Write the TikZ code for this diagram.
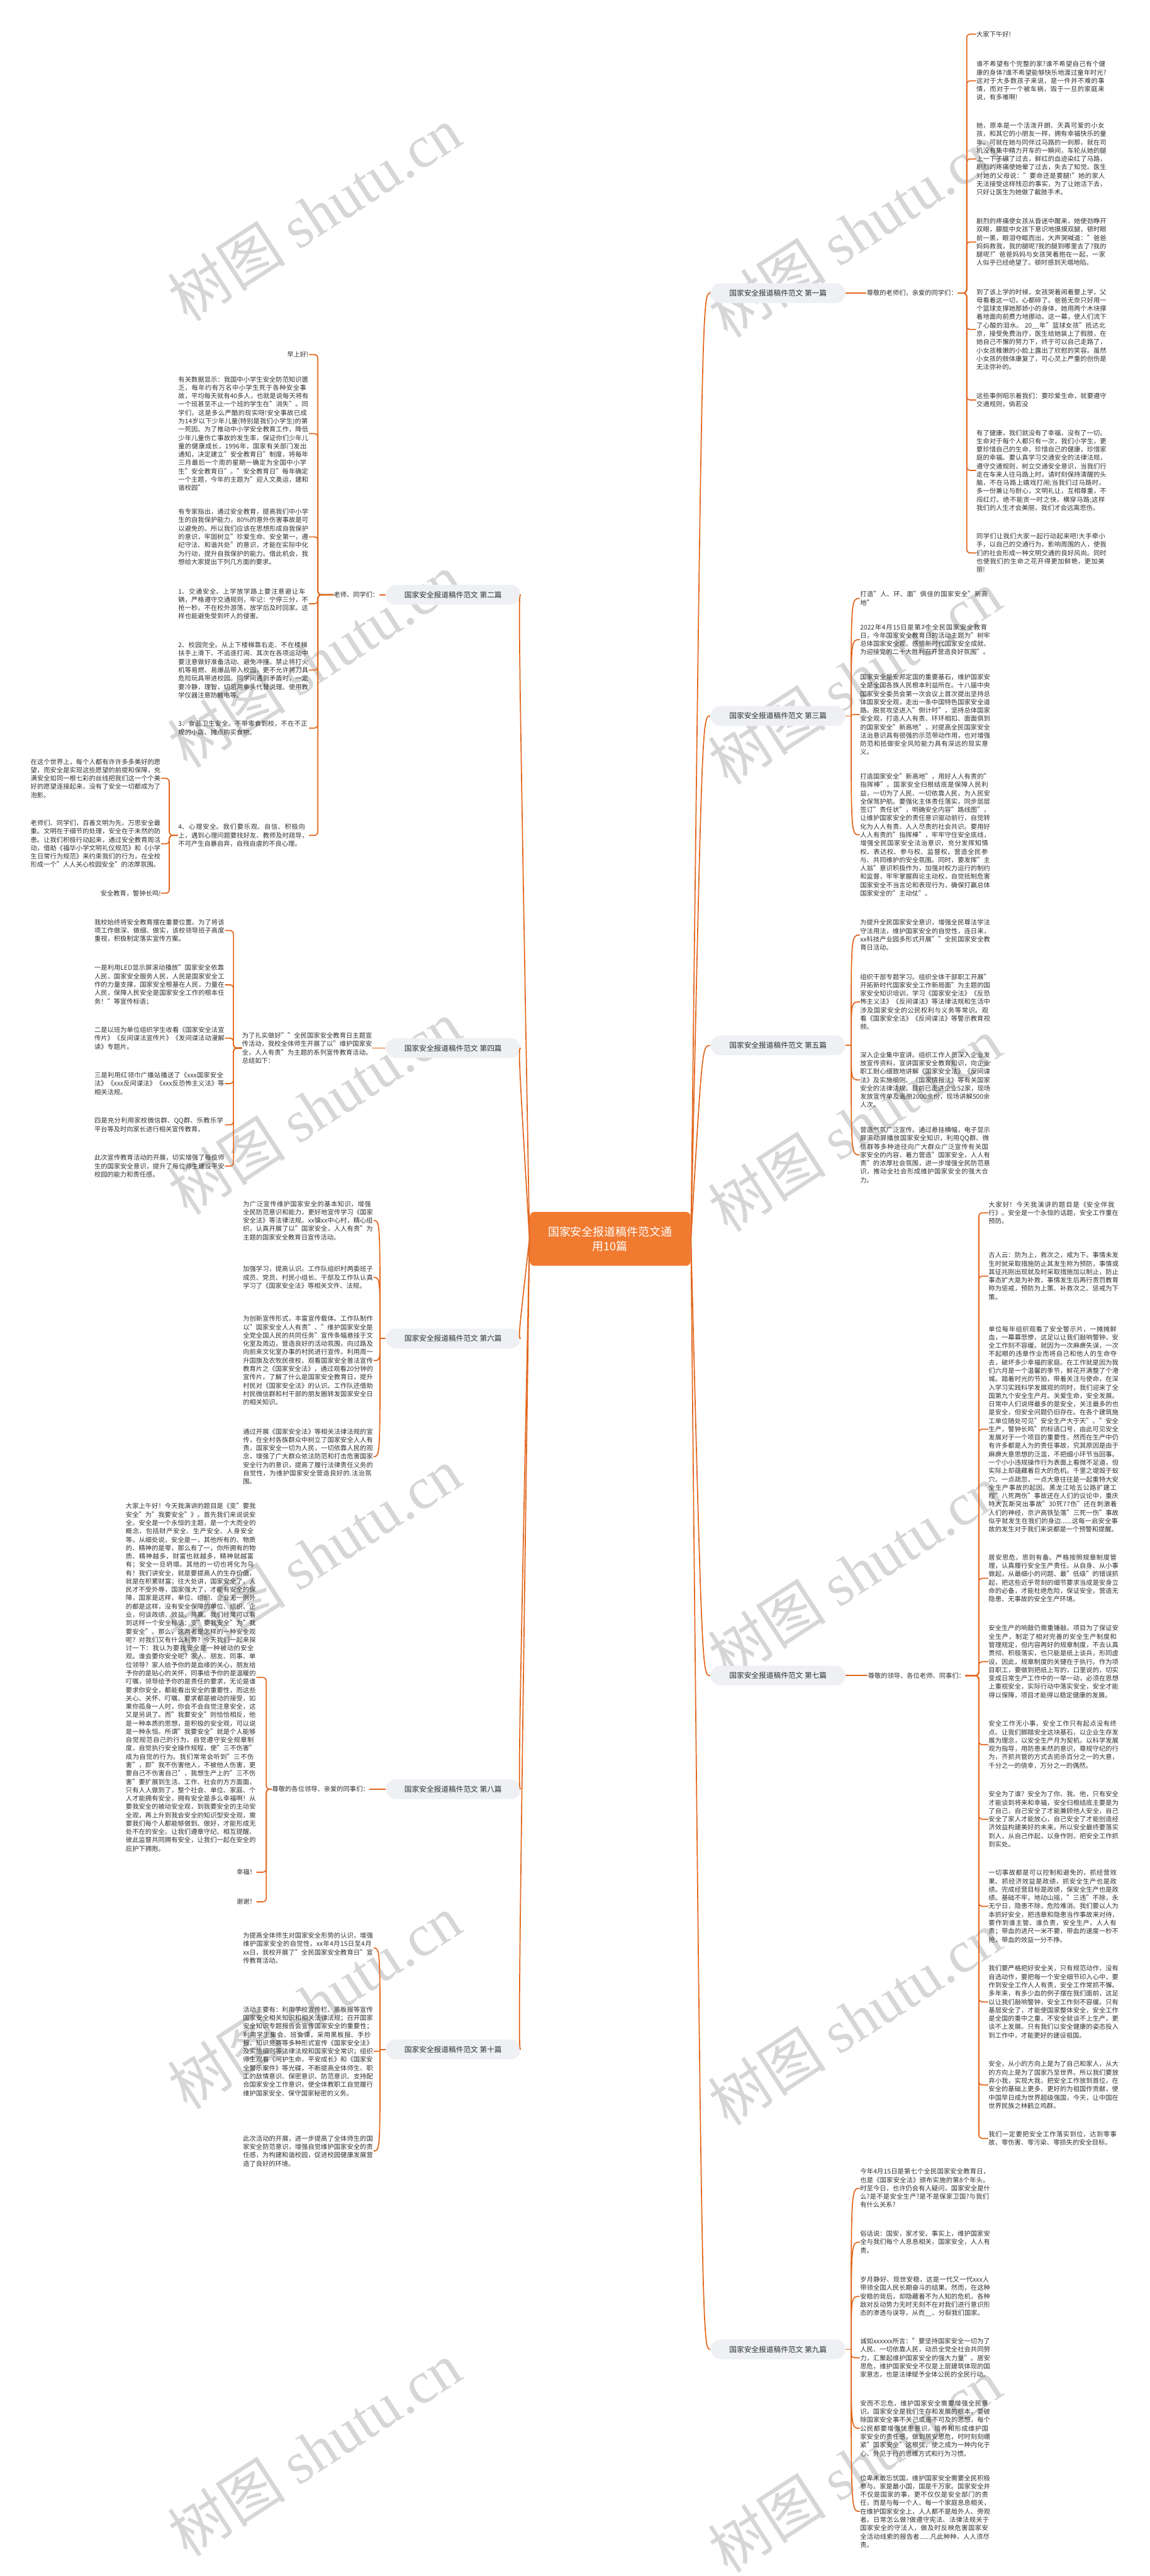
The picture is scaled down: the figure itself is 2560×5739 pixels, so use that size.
\documentclass[tikz,border=0pt]{standalone}
\usepackage{fontspec}
\setmainfont{Noto Sans CJK SC}
\newfontfamily\wmserif{Liberation Serif}
\XeTeXlinebreaklocale "zh"
\XeTeXlinebreakskip=0pt plus 1pt
\usetikzlibrary{calc}
\definecolor{org}{HTML}{E2671E}
\definecolor{ctrfill}{HTML}{F07A30}
\definecolor{lblfill}{HTML}{EEF0F4}
\definecolor{txt}{HTML}{303030}
\definecolor{wmgray}{HTML}{D6D6D6}
\newcommand{\bt}{\fontsize{3.6pt}{4.65pt}\selectfont}
\tikzset{
  blk/.style={inner sep=0pt, text width=72.5pt, align=left, font=\bt, text=txt},
  sht/.style={inner sep=0pt, font=\bt, text=txt},
  lbl/.style={fill=lblfill, rounded corners=5.5pt, minimum width=75pt, minimum height=11pt, inner sep=0pt, font=\fontsize{4.1pt}{5pt}\selectfont, text=txt},
  ctr/.style={fill=ctrfill, rounded corners=2.5pt, minimum width=89.5pt, minimum height=30pt, align=center, font=\fontsize{6.3pt}{8pt}\selectfont, text=white},
  cn/.style={draw=org, line width=0.6pt},
  el/.style={draw=org, line width=0.6pt, rounded corners=2pt},
  wm/.style={text=wmgray, inner sep=0pt, rotate=33, font=\fontsize{33pt}{36pt}\selectfont},
}
\begin{document}
\begin{tikzpicture}[x=0.25pt,y=-0.25pt]
\useasboundingbox (0,0) rectangle (2560,5739);
\fill[white] (0,0) rectangle (2560,5739);

% ---------- watermarks ----------
\foreach \i/\yy in {0/476,1/1472,2/2468,3/3464,4/4460,5/5456}
  \node[wm] (wml\i) at (700,\yy) {树图 {\wmserif shutu.cn}};
\foreach \i/\yy in {0/513,1/1509,2/2505,3/3501,4/4497,5/5493}
  \node[wm] (wmr\i) at (1904,\yy) {树图 {\wmserif shutu.cn}};

% ---------- centre and labels ----------
\node[ctr] (C) at (1359,2760) {国家安全报道稿件范文通\\用10篇};
\node[lbl, anchor=west] (L1) at (1582,653) {国家安全报道稿件范文 第一篇};
\node[lbl, anchor=west] (L3) at (1582,1595) {国家安全报道稿件范文 第三篇};
\node[lbl, anchor=west] (L5) at (1582,2329) {国家安全报道稿件范文 第五篇};
\node[lbl, anchor=west] (L7) at (1582,3733) {国家安全报道稿件范文 第七篇};
\node[lbl, anchor=west] (L9) at (1582,5234) {国家安全报道稿件范文 第九篇};
\node[lbl, anchor=east] (L2) at (1160,1325) {国家安全报道稿件范文 第二篇};
\node[lbl, anchor=east] (L4) at (1160,2335) {国家安全报道稿件范文 第四篇};
\node[lbl, anchor=east] (L6) at (1160,2982) {国家安全报道稿件范文 第六篇};
\node[lbl, anchor=east] (L8) at (1160,3986) {国家安全报道稿件范文 第八篇};
\node[lbl, anchor=east] (L10) at (1160,4566) {国家安全报道稿件范文 第十篇};

\coordinate (Ce) at ($(C.east)+(25,0)$);
\coordinate (Cw) at ($(C.west)+(-25,0)$);
\foreach \l in {L1,L3,L5,L7,L9} \draw[cn] (C.east) .. controls (Ce |- \l.west) .. (\l.west);
\foreach \l in {L2,L4,L6,L8,L10} \draw[cn] (C.west) .. controls (Cw |- \l.east) .. (\l.east);

% ---------- 第一篇 ----------
\node[sht, anchor=east] (I1) at (2133,653) {尊敬的老师们，亲爱的同学们：};
\node[sht, anchor=west] (r1a) at (2174,76) {大家下午好!};
\node[blk, anchor=west] (r1b) at (2174,180) {谁不希望有个完整的家?谁不希望自己有个健康的身体?谁不希望能够快乐地渡过童年时光?这对于大多数孩子来说，是一件并不难的事情，而对于一个被车祸，毁于一旦的家庭来说，有多难啊!};
\node[blk, anchor=west] (r1c) at (2174,354) {她，原本是一个活泼开朗、天真可爱的小女孩，和其它的小朋友一样，拥有幸福快乐的童年。可就在她与同伴过马路的一刹那，就在司机没有集中精力开车的一瞬间，车轮从她的腿上一下子碾了过去，鲜红的血迹染红了马路，剧烈的疼痛使她晕了过去，失去了知觉。医生对她的父母说："要命还是要腿!"她的家人无法接受这样残忍的事实，为了让她活下去，只好让医生为她做了截肢手术。};
\node[blk, anchor=west] (r1d) at (2174,539) {剧烈的疼痛使女孩从昏迷中醒来，她使劲睁开双眼，朦胧中女孩下意识地摸摸双腿，顿时眼前一黑，眼泪夺眶而出，大声哭喊道："爸爸妈妈救我，我的腿呢?我的腿到哪里去了?我的腿呢?"爸爸妈妈与女孩哭着抱在一起，一家人似乎已经绝望了。顿时感到天塌地陷。};
\node[blk, anchor=west] (r1e) at (2174,734) {到了该上学的时候，女孩哭着闹着要上学，父母看着这一切，心都碎了。爸爸无奈只好用一个篮球支撑她那娇小的身体，她用两个木块撑着地面向前费力地挪动。这一幕，使人们流下了心酸的泪水。 20\_\_年"篮球女孩"抵达北京，接受免费治疗，医生给她装上了假肢，在她自己不懈的努力下，终于可以自己走路了，小女孩稚嫩的小脸上露出了欣慰的笑容。虽然小女孩的肢体康复了，可心灵上严重的创伤是无法弥补的。};
\node[blk, anchor=west] (r1f) at (2174,891) {这些事例昭示着我们：要珍爱生命，就要遵守交通规则，倘若没};
\node[blk, anchor=west] (r1g) at (2174,1048) {有了健康，我们就没有了幸福，没有了一切。生命对于每个人都只有一次，我们小学生，更要珍惜自己的生命，珍惜自己的健康，珍惜家庭的幸福。要认真学习交通安全的法律法规，遵守交通规则，树立交通安全意识，当我们行走在车来人往马路上时，请时刻保持清醒的头脑，不在马路上嬉戏打闹;当我们过马路时，多一份兼让与耐心，文明礼让，互相尊重，不闯红灯。绝不能贪一时之快，横穿马路;这样我们的人生才会美丽，我们才会远离悲伤。};
\node[blk, anchor=west] (r1h) at (2174,1232) {同学们让我们大家一起行动起来吧!大手牵小手，以自己的交通行为，影响周围的人，使我们的社会形成一种文明交通的良好风尚。同时也使我们的生命之花开得更加鲜艳，更加美丽!};
\draw[cn] (L1.east) -- (I1.west);
\coordinate (I1s) at (2153,653);
\foreach \b in {r1a,r1b,r1c,r1d,r1e,r1f,r1g,r1h} \draw[el] (I1.east) -- (I1s) |- (\b.west);

% ---------- 第二篇 ----------
\node[sht, anchor=east] (I2) at (845,1325) {老师、同学们：};
\node[sht, anchor=east] (l2a) at (688,790) {早上好!};
\node[blk, anchor=east] (l2b) at (688,966) {有关数据显示：我国中小学生安全防范知识匮乏，每年约有万名中小学生死于各种安全事故，平均每天就有40多人，也就是说每天将有一个班甚至不止一个班的学生在"消失"。同学们，这是多么严酷的现实呀!安全事故已成为14岁以下少年儿童(特别是我们小学生)的第一死因。为了推动中小学安全教育工作，降低少年儿童伤亡事故的发生率，保证你们少年儿童的健康成长，1996年，国家有关部门发出通知，决定建立"安全教育日"制度，将每年三月最后一个周的星期一确定为全国中小学生"安全教育日"。"安全教育日"每年确定一个主题，今年的主题为"迎人文奥运，建和谐校园"};
\node[blk, anchor=east] (l2c) at (688,1196) {有专家指出，通过安全教育，提高我们中小学生的自我保护能力，80\%的意外伤害事故是可以避免的。所以我们应该在思想形成自我保护的意识，牢固树立"珍爱生命、安全第一，遵纪守法、和谐共处"的意识，才能在实际中化为行动，提升自我保护的能力。借此机会，我想给大家提出下列几方面的要求。};
\node[blk, anchor=east] (l2d) at (688,1345) {1、交通安全。上学放学路上要注意避让车辆，严格遵守交通规则，牢记：宁停三分，不抢一秒。不在校外游荡，放学后及时回家。这样也能避免受到坏人的侵害。};
\node[blk, anchor=east] (l2e) at (688,1493) {2、校园完全。从上下楼梯靠右走、不在楼梯扶手上滑下、不追逐打闹、其次在各项运动中要注意做好准备活动、避免冲撞。禁止将打火机等易燃、易爆品带入校园，更不允许将刀具危险玩具带进校园。同学间遇到矛盾时，一定要冷静，理智，切忌用拳头代替说理。使用教学仪器注意防触电等。};
\node[blk, anchor=east] (l2f) at (688,1622) {3、食品卫生安全。不带零食到校，不在不正规的小店、摊点购买食物。};
\node[blk, anchor=east] (l2g) at (688,1861) {4、心理安全。我们要乐观、自信、积极向上，遇到心理问题要找好友、教师及时疏导，不可产生自暴自弃，自残自虐的不良心理。};
\node[blk, anchor=east] (l2g1) at (359,1734) {在这个世界上，每个人都有许许多多美好的愿望，而安全是实现这些愿望的前提和保障，充满安全如同一根七彩的丝线把我们这一个个美好的愿望连接起来，没有了安全一切都成为了泡影。};
\node[blk, anchor=east] (l2g2) at (359,1880) {老师们、同学们，百善文明为先，万思安全最重。文明在于细节的处理，安全在于未然的防患。让我们积极行动起来，通过安全教育周活动，借助《福华小学文明礼仪规范》和《小学生日常行为规范》来约束我们的行为，在全校形成一个"人人关心校园安全"的浓厚氛围。};
\node[sht, anchor=east] (l2g3) at (359,1990) {安全教育，警钟长鸣!};
\draw[cn] (L2.west) -- (I2.east);
\coordinate (I2s) at (708,1325);
\foreach \b in {l2a,l2b,l2c,l2d,l2e,l2f,l2g} \draw[el] (I2.west) -- (I2s) |- (\b.east);
\coordinate (G2s) at (377,1861);
\foreach \b in {l2g1,l2g2,l2g3} \draw[el] (l2g.west) -- (G2s) |- (\b.east);

% ---------- 第三篇 ----------
\node[blk, anchor=west] (r3a) at (1915,1333) {打造"人、环、面"俱佳的国家安全"新高地"};
\node[blk, anchor=west] (r3b) at (1915,1425) {2022年4月15日是第7个全民国家安全教育日，今年国家安全教育日的活动主题为"树牢总体国家安全观、感悟新时代国家安全成就、为迎接党的二十大胜利召开营造良好氛围"。};
\node[blk, anchor=west] (r3c) at (1915,1592) {国家安全是安邦定国的重要基石，维护国家安全是全国各族人民根本利益所在。十八届中央国家安全委员会第一次会议上首次提出坚持总体国家安全观，走出一条中国特色国家安全道路。脱贫攻坚进入"倒计时"，坚持总体国家安全观，打造人人有责、环环相扣、面面俱到的国家安全"新高地"，对提高全民国家安全法治意识具有很强的示范带动作用，也对增强防范和抵御安全风险能力具有深远的现实意义。};
\node[blk, anchor=west] (r3d) at (1915,1860) {打造国家安全"新高地"，用好人人有责的"指挥棒"。国家安全归根结底是保障人民利益，一切为了人民、一切依靠人民，为人民安全保驾护航。要强化主体责任落实，同步层层签订"责任状"，明确安全内容"路线图"，让维护国家安全的责任意识驱动前行，自觉转化为人人有责、人人尽责的社会共识。要用好人人有责的"指挥棒"，牢牢守住安全底线，增强全民国家安全法治意识，充分发挥知情权、表达权、参与权、监督权，营造全民参与、共同维护的安全氛围。同时，要发挥"主人翁"意识积极作为，加强对权力运行的制约和监督，牢牢掌握舆论主动权，自觉抵制危害国家安全不当言论和表现行为，确保打赢总体国家安全的"主动仗"。};
\coordinate (L3s) at ($(L3.east)+(12,0)$);
\draw[cn] (L3.east) -- (L3s);
\foreach \b in {r3a,r3b,r3c,r3d} \draw[cn] (L3s) .. controls (L3s |- \b.west) .. (\b.west);

% ---------- 第四篇 ----------
\node[blk, anchor=east] (I4) at (830,2335) {为了扎实做好""全民国家安全教育日主题宣传活动，我校全体师生开展了以"维护国家安全，人人有责"为主题的系列宣传教育活动。总结如下：};
\node[blk, anchor=east] (l4a) at (501,2073) {我校始终将安全教育摆在重要位置。为了将该项工作做深、做细、做实，该校领导班子高度重视，积极制定落实宣传方案。};
\node[blk, anchor=east] (l4b) at (501,2194) {一是利用LED显示屏滚动播放"国家安全依靠人民，国家安全服务人民，人民是国家安全工作的力量支撑，国家安全根基在人民，力量在人民，保障人民安全是国家安全工作的根本任务！"等宣传标语；};
\node[blk, anchor=east] (l4c) at (501,2313) {二是以班为单位组织学生收看《国家安全法宣传片》《反间谍法宣传片》《发间谍法动漫解读》专题片。};
\node[blk, anchor=east] (l4d) at (501,2414) {三是利用红领巾广播站播送了《xxx国家安全法》《xxx反间谍法》《xxx反恐怖主义法》等相关法规。};
\node[blk, anchor=east] (l4e) at (501,2506) {四是充分利用家校微信群、QQ群、乐教乐学平台等及时向家长进行相关宣传教育。};
\node[blk, anchor=east] (l4f) at (501,2598) {此次宣传教育活动的开展，切实增强了每位师生的国家安全意识，提升了每位师生建设平安校园的能力和责任感。};
\draw[cn] (L4.west) -- (I4.east);
\coordinate (I4s) at (520,2335);
\foreach \b in {l4a,l4b,l4c,l4d,l4e,l4f} \draw[el] (I4.west) -- (I4s) |- (\b.east);

% ---------- 第五篇 ----------
\node[blk, anchor=west] (r5a) at (1915,2083) {为提升全民国家安全意识，增强全民尊法学法守法用法，维护国家安全的自觉性，连日来，xx科技产业园多形式开展""全民国家安全教育日活动。};
\node[blk, anchor=west] (r5b) at (1915,2232) {组织干部专题学习。组织全体干部职工开展"开拓新时代国家安全工作新局面"为主题的国家安全知识培训，学习《国家安全法》《反恐怖主义法》《反间谍法》等法律法规和生活中涉及国家安全的公民权利与义务等常识。观看《国家安全法》《反间谍法》等警示教育视频。};
\node[blk, anchor=west] (r5c) at (1915,2406) {深入企业集中宣讲。组织工作人员深入企业发放宣传资料，宣讲国家安全教育知识，向企业职工耐心细致地讲解《国家安全法》《反间谍法》及实施细则、《国家情报法》等有关国家安全的法律法规。目前已走进企业52家，现场发放宣传单及画册2000余份，现场讲解500余人次。};
\node[blk, anchor=west] (r5d) at (1915,2573) {营造气氛广泛宣传。通过悬挂横幅，电子显示屏滚动屏播放国家安全知识，利用QQ群、微信群等多种途径向广大群众广泛宣传有关国家安全的内容，着力营造"国家安全，人人有责"的浓厚社会氛围，进一步增强全民防范意识，推动全社会形成维护国家安全的强大合力。};
\coordinate (L5s) at ($(L5.east)+(12,0)$);
\draw[cn] (L5.east) -- (L5s);
\foreach \b in {r5a,r5b,r5c,r5d} \draw[cn] (L5s) .. controls (L5s |- \b.west) .. (\b.west);

% ---------- 第六篇 ----------
\node[blk, anchor=east] (l6a) at (832,2719) {为广泛宣传维护国家安全的基本知识，增强全民防范意识和能力，更好地宣传学习《国家安全法》等法律法规。xx镇xx中心村，精心组织，认真开展了以"国家安全，人人有责"为主题的国家安全教育日宣传活动。};
\node[blk, anchor=east] (l6b) at (832,2846) {加强学习，提高认识。工作队组织村两委班子成员、党员、村民小组长、干部及工作队认真学习了《国家安全法》等相关文件、法规。};
\node[blk, anchor=east] (l6c) at (832,3031) {为创新宣传形式，丰富宣传载体。工作队制作以"国家安全人人有责"、"维护国家安全是全党全国人民的共同任务"宣传条幅悬挂于文化室及周边，营造良好的活动氛围，向过路及向前来文化室办事的村民进行宣传。利用周一升国旗及农牧民夜校，观看国家安全普法宣传教育片之《国家安全法》，通过观看20分钟的宣传片，了解了什么是国家安全教育日，提升村民对《国家安全法》的认识。工作队还借助村民微信群和村干部的朋友圈转发国家安全日的相关知识。};
\node[blk, anchor=east] (l6d) at (832,3245) {通过开展《国家安全法》等相关法律法规的宣传，在全村各族群众中树立了国家安全人人有责，国家安全一切为人民，一切依靠人民的观念，增强了广大群众依法防范和打击危害国家安全行为的意识，提高了履行法律责任义务的自觉性，为维护国家安全营造良好的.法治氛围。};
\coordinate (L6s) at ($(L6.west)+(-12,0)$);
\draw[cn] (L6.west) -- (L6s);
\foreach \b in {l6a,l6b,l6c,l6d} \draw[cn] (L6s) .. controls (L6s |- \b.east) .. (\b.east);

% ---------- 第七篇 ----------
\node[sht, anchor=east] (I7) at (2150,3733) {尊敬的领导、各位老师、同事们：};
\node[blk, anchor=west] (r7a) at (2201,2702) {大家好！今天我演讲的题目是《安全伴我行》。安全是一个永恒的话题，安全工作重在预防。};
\node[blk, anchor=west] (r7b) at (2201,2843) {古人云：防为上，救次之，戒为下。事情未发生时就采取措施防止其发生称为预防，事情或其征兆刚出现就及时采取措施加以制止，防止事态扩大是为补救，事情发生后再行责罚教育称为惩戒，预防为上策、补救次之、惩戒为下策。};
\node[blk, anchor=west] (r7c) at (2201,3184) {单位每年组织观看了安全警示片，一摊摊鲜血，一幕幕悲惨，这足以让我们敲响警钟，安全工作刻不容缓。就因为一次麻痹失误，一次不起眼的违章作业而将自己和他人的生命夺去，破坏多少幸福的家庭。在工作就是因为我们六月是一个温馨的季节，鲜花开满整了个港城。踏着时光的节拍，带着关注与使命，在深入学习实践科学发展观的同时，我们迎来了全国第九个安全生产月。关爱生命，安全发展。日常中人们说得最多的是安全，关注最多的也是安全，但安全问题仍旧存在。在各个建筑施工单位随处可见"安全生产大于天"、"安全生产，警钟长鸣"的标语口号，由此可见安全发展对于一个项目的重要性，然而在生产中仍有许多都是人为的责任事故，究其原因是由于麻痹大意思想的泛滥，不把细小环节当回事。一个小小违规操作行为表面上看微不足道，但实际上却蕴藏着巨大的危机。千里之堤毁于蚁穴。一点疏忽，一点大意往往是一起重特大安全生产事故的起因。黑龙江哈五公路扩建工程"八死两伤"事故还在人们的议论中，重庆特大瓦斯突出事故"30死77伤"还在刺激着人们的神经，京沪高铁坠落"三死一伤"事故似乎就发生在我们的身边......这每一启安全事故的发生对于我们来说都是一个预警和提醒。};
\node[blk, anchor=west] (r7d) at (2201,3516) {居安思危，思则有备。严格按照规章制度管理，认真履行安全生产责任。从自身、从小事做起，从最细小的问题、最"低级"的错误抓起，把这些近乎苛刻的细节要求当成是安身立命的必备，才能杜绝危险，保证安全，营造无隐患、无事故的安全生产环境。};
\node[blk, anchor=west] (r7e) at (2201,3702) {安全生产的响鼓仍需重锤敲。项目为了保证安全生产，制定了相对完善的安全生产制度和管理规定，但内容再好的规章制度，不去认真贯彻、积极落实，也只能是纸上谈兵，形同虚设。因此，规章制度的关键在于执行。作为项目职工，要做到把纸上写的，口里说的，切实变成日常生产工作中的一举一动，必须在思想上重视安全，实际行动中落实安全，安全才能得以保障，项目才能得以稳定健康的发展。};
\node[blk, anchor=west] (r7f) at (2201,3887) {安全工作无小事，安全工作只有起点没有终点。让我们脚踏安全这块基石，以企业生存发展为理念，以安全生产月为契机，以科学发展观为指导，用防患未然的意识，尊规守纪的行为，齐抓共管的方式去扼杀百分之一的大意，千分之一的侥幸，万分之一的偶然。};
\node[blk, anchor=west] (r7g) at (2201,4053) {安全为了谁？安全为了你、我、他，只有安全才能谈到将来和幸福，安全归根结底主要是为了自己，自己安全了才能兼顾他人安全，自己安全了家人才能放心，自己安全了才能创造经济效益构建美好的未来。所以安全最终要落实到人，从自己作起，以身作则，把安全工作抓到实处。};
\node[blk, anchor=west] (r7h) at (2201,4247) {一切事故都是可以控制和避免的，抓经营效果、抓经济效益是政绩，抓安全生产也是政绩。完成经营目标是政绩，保安全生产也是政绩。基础不牢，地动山摇，"三违"不除，永无宁日，隐患不除，危险难消。我们要以人为本抓好安全，把违章和隐患当作事故来对待，要作到谁主管、谁负责，安全生产，人人有责；带血的进尺一米不要，带血的速度一秒不抢，带血的效益一分不挣。};
\node[blk, anchor=west] (r7i) at (2201,4460) {我们要严格把好安全关，只有规范动作，没有自选动作，要把每一个安全细节印入心中，要作到安全工作人人有责，安全工作常抓不懈。多年来，有多少血的例子摆在我们面前，这足以让我们敲响警钟，安全工作刻不容缓。只有基层安全了，才能使国家整体安全，安全工作是全国的重中之重，不安全就谈不上生产，更谈不上发展。只有我们以安全健康的姿态投入到工作中，才能更好的建设祖国。};
\node[blk, anchor=west] (r7j) at (2201,4645) {安全，从小的方向上是为了自己和家人，从大的方向上是为了国家乃至世界。所以我们要放弃小我，实现大我，把安全工作放到首位，在安全的基础上更多、更好的为祖国作贡献，使中国早日成为世界超级强国，今天，让中国在世界民族之林鹤立鸡群。};
\node[blk, anchor=west] (r7k) at (2201,4764) {我们一定要把安全工作落实到位，达到零事故、零伤害、零污染、零损失的安全目标。};
\draw[cn] (L7.east) -- (I7.west);
\coordinate (I7s) at (2180,3733);
\foreach \b in {r7a,r7b,r7c,r7d,r7e,r7f,r7g,r7h,r7i,r7j,r7k} \draw[el] (I7.east) -- (I7s) |- (\b.west);

% ---------- 第八篇 ----------
\node[sht, anchor=east] (I8) at (823,3986) {尊敬的各位领导、亲爱的同事们：};
\node[blk, anchor=east] (l8a) at (571,3737) {大家上午好！今天我演讲的题目是《变"要我安全"为"我要安全"》。首先我们来说说安全。安全是一个永恒的主题，是一个大而全的概念，包括财产安全、生产安全、人身安全等。从细处说，安全是一，其他所有的、物质的、精神的是零，那么有了一，你所拥有的物质、精神越多，财富也就越多，精神就越富有；安全一旦坍塌，其他的一切也将化为乌有！我们讲安全，就是要提高人的生存价值，就是在积累财富；往大处讲，国家安全了，人民才不受外辱，国家强大了，才能有安全的保障，国家是这样，单位、组织、企业无一例外的都是这样，没有安全保障的单位、组织、企业，何谈政绩、效益、共赢。我们经常可以看到这样一个安全标语：变"要我安全"为"我要安全"。那么，这两者是怎样的一种安全观呢？对我们又有什么利弊？今天我们一起来探讨一下：我认为要我安全是一种被动的安全观。谁会要你安全呢？家人、朋友、同事、单位领导？家人给予你的是血缘的关心，朋友给予你的是贴心的关怀，同事给予你的是温暖的叮嘱，领导给予你的是责任的要求，无论是谁要求你安全，都能看出安全的重要性，而这些关心、关怀、叮嘱、要求都是被动的接受，如果你孤身一人时，你会不会自觉注意安全，这又是另说了。而"我要安全"则恰恰相反，他是一种本质的思想，是积极的安全观，可以说是一种永恒。所谓"我要安全"就是个人能够自觉规范自己的行为，自觉遵守安全规章制度，自觉执行安全操作规程，使"三不伤害"成为自觉的行为。我们常常会听到"三不伤害"，即"我不伤害他人，不被他人伤害，更要自己不伤害自己"，我想生产上的"三不伤害"要扩展到生活、工作、社会的方方面面，只有人人做到了，整个社会、单位、家庭、个人才能拥有安全，拥有安全是多么幸福啊！从要我安全的被动安全观，到我要安全的主动安全观，再上升到我会安全的知识型安全观，需要我们每个人都能够做到、做好，才能形成无处不在的安全。让我们遵章守纪、相互提醒、彼此监督共同拥有安全，让我们一起在安全的庇护下拥抱。};
\node[sht, anchor=east] (l8b) at (571,4171) {幸福！};
\node[sht, anchor=east] (l8c) at (571,4237) {谢谢！};
\draw[cn] (L8.west) -- (I8.east);
\coordinate (I8s) at (593,3986);
\foreach \b in {l8a,l8b,l8c} \draw[el] (I8.west) -- (I8s) |- (\b.east);

% ---------- 第九篇 ----------
\node[blk, anchor=west] (r9a) at (1915,4875) {今年4月15日是第七个全民国家安全教育日，也是《国家安全法》颁布实施的第8个年头。时至今日，也许仍会有人疑问，国家安全是什么?是不是安全生产?是不是保家卫国?与我们有什么关系?};
\node[blk, anchor=west] (r9b) at (1915,4995) {俗话说：国安，家才安。事实上，维护国家安全与我们每个人息息相关，国家安全，人人有责。};
\node[blk, anchor=west] (r9c) at (1915,5116) {岁月静好、现世安稳，这是一代又一代xxx人带领全国人民长期奋斗的结果。然而，在这种安稳的背后，却隐藏着不为人知的危机，各种敌对反动势力无时无刻不在对我们进行意识形态的渗透与误导，从而\_\_、分裂我们国家。};
\node[blk, anchor=west] (r9d) at (1915,5253) {诚如xxxxxx所言："要坚持国家安全一切为了人民、一切依靠人民，动员全党全社会共同努力，汇聚起维护国家安全的强大力量"。居安思危，维护国家安全不仅是上层建筑体现的国家意志，也是法律赋予全体公民的全民行动。};
\node[blk, anchor=west] (r9e) at (1915,5410) {安而不忘危，维护国家安全需要增强全民意识。国家安全是我们生存和发展的根本，要破除国家安全事不关己或遥不可及的思想，每个公民都要增强忧患意识，培养和形成维护国家安全的责任感，做到居安思危，时时刻刻绷紧"国家安全"这根弦，使之成为一种内化于心、外见于行的思维方式和行为习惯。};
\node[blk, anchor=west] (r9f) at (1915,5595) {位卑未敢忘忧国，维护国家安全需要全民积极参与。家是最小国，国是千万家。国家安全并不仅是国家的事，更不仅仅是安全部门的责任，而是与每一个人、每一个家庭息息相关，在维护国家安全上，人人都不是局外人、旁观者。日常怎么做?做遵守宪法、法律法规关于国家安全的守法人，做及时反映危害国家安全活动线索的报告者......凡此种种，人人须尽责。};
\coordinate (L9s) at ($(L9.east)+(12,0)$);
\draw[cn] (L9.east) -- (L9s);
\foreach \b in {r9a,r9b,r9c,r9d,r9e,r9f} \draw[cn] (L9s) .. controls (L9s |- \b.west) .. (\b.west);

% ---------- 第十篇 ----------
\node[blk, anchor=east] (l10a) at (832,4340) {为提高全体师生对国家安全形势的认识，增强维护国家安全的自觉性，xx年4月15日至4月xx日，我校开展了"全民国家安全教育日"宣传教育活动。};
\node[blk, anchor=east] (l10b) at (832,4570) {活动主要有：利用学校宣传栏、黑板报等宣传国家安全相关知识和相关法律法规；召开国家安全知识专题报告会宣传国家安全的重要性；利用学生集会、班会课，采用黑板报、手抄报、知识竞赛等多种形式宣传《国家安全法》及实施细则等法律法规和国家安全常识；组织师生观看《呵护生命，平安成长》和《国家安全警示案件》等光碟，不断提高全体师生、职工的敌情意识、保密意识、防范意识、支持配合国家安全工作意识，使全体教职工自觉履行维护国家安全、保守国家秘密的义务。};
\node[blk, anchor=east] (l10c) at (832,4792) {此次活动的开展，进一步提高了全体师生的国家安全防范意识，增强自觉维护国家安全的责任感，为构建和谐校园，促进校园健康发展营造了良好的环境。};
\coordinate (L10s) at ($(L10.west)+(-12,0)$);
\draw[cn] (L10.west) -- (L10s);
\foreach \b in {l10a,l10b,l10c} \draw[cn] (L10s) .. controls (L10s |- \b.east) .. (\b.east);
\end{tikzpicture}
\end{document}
